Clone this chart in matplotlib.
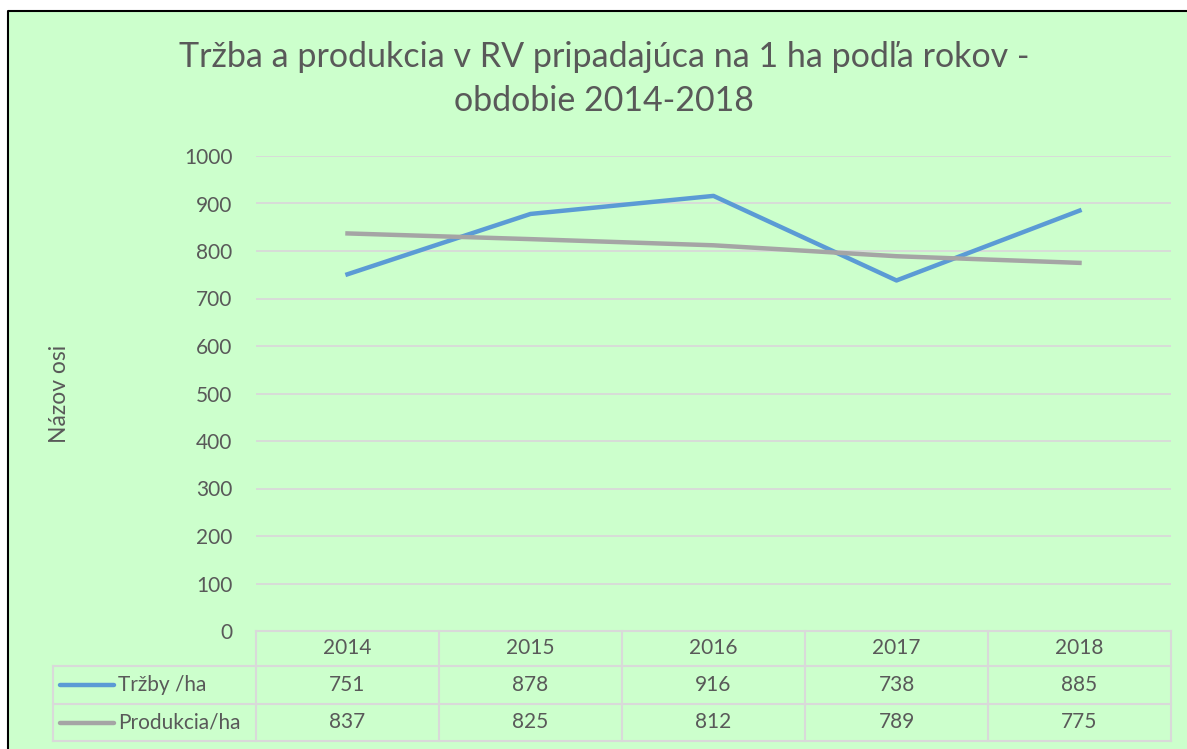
import matplotlib
import matplotlib.pyplot as plt
import matplotlib.transforms as mtransforms
from matplotlib.lines import Line2D
from matplotlib.patches import Rectangle

matplotlib.use("Agg")

years = ["2014", "2015", "2016", "2017", "2018"]
trzby = [751, 878, 916, 738, 885]
produkcia = [837, 825, 812, 789, 775]
series_names = ["Tržby /ha", "Produkcia/ha"]
y_ticks = list(range(0, 1001, 100))

plt.rcParams["font.family"] = ["Lato", "DejaVu Sans"]
TEXT = "#595959"
GRID = "#D9D9D9"
BLUE = "#5B9BD5"
GRAY = "#A5A5A5"
W, H = 1187, 749

fig = plt.figure(figsize=(W / 100, H / 100), dpi=100, facecolor="white")
# green chart area, black frame only on top and left (rest is cut off)
fig.patches.append(
    Rectangle((8 / W, 0), 1, 1 - 11 / H, transform=fig.transFigure,
              facecolor="#CCFFCC", edgecolor="none", zorder=-5)
)
fig.lines.append(Line2D([8 / W, 8 / W, 1], [0, 1 - 11 / H, 1 - 11 / H],
                        transform=fig.transFigure, color="black", lw=1.5, zorder=-4))

ax = fig.add_axes([256 / W, 1 - 631 / H, (1171 - 256) / W, (631 - 156) / H])
ax.set_facecolor("none")
x = list(range(len(years)))
series = [trzby, produkcia]
colors = [BLUE, GRAY]
for vals, c in zip(series, colors):
    ax.plot(x, vals, color=c, lw=3.2, zorder=3)

ax.set_xlim(-0.5, len(years) - 0.5)
ax.set_ylim(0, 1000)
ax.set_yticks(y_ticks)
ax.set_xticks([])
ax.yaxis.grid(True, color=GRID, lw=1.3)
ax.set_axisbelow(True)
for s in ax.spines.values():
    s.set_visible(False)
ax.tick_params(axis="y", length=0, pad=17, labelsize=15, labelcolor=TEXT)

# data table under the plot
trans = mtransforms.blended_transform_factory(ax.transData, ax.transAxes)
ph = 631 - 156
rows = [0, -35 / ph, -73 / ph, -110 / ph]
x_left = -0.5 - (256 - 53) / 183
line_kw = dict(color=GRID, lw=1.5, transform=trans, clip_on=False)
ax.plot([-0.5, len(years) - 0.5], [rows[0]] * 2, **line_kw)
for r in rows[1:]:
    ax.plot([x_left, len(years) - 0.5], [r, r], **line_kw)
for b in range(len(years) + 1):
    ax.plot([b - 0.5, b - 0.5], [rows[0], rows[3]], **line_kw)
ax.plot([x_left, x_left], [rows[1], rows[3]], **line_kw)

txt_kw = dict(transform=trans, ha="center", va="center", fontsize=15, color=TEXT)
for i, yr in enumerate(years):
    ax.text(i, (rows[0] + rows[1]) / 2, yr, **txt_kw)
for k, (vals, name, c) in enumerate(zip(series, series_names, colors)):
    yc = (rows[k + 1] + rows[k + 2]) / 2
    for i, v in enumerate(vals):
        ax.text(i, yc, str(v), **txt_kw)
    ax.plot([x_left + 0.04, x_left + 0.335], [yc, yc], color=c, lw=3.2,
            transform=trans, clip_on=False, solid_capstyle="round")
    ax.text(x_left + 0.355, yc, name, transform=trans, ha="left", va="center",
            fontsize=15, color=TEXT)

fig.text(60 / W, 1 - 394 / H, "Názov osi", rotation=90, ha="center", va="center",
         fontsize=16.5, color=TEXT)
fig.text(604 / W, 1 - 79 / H,
         "Tržba a produkcia v RV pripadajúca na 1 ha podľa rokov -\nobdobie 2014-2018",
         ha="center", va="center", fontsize=24.5, color=TEXT, linespacing=1.45)

fig.savefig("out.png", dpi=100)
